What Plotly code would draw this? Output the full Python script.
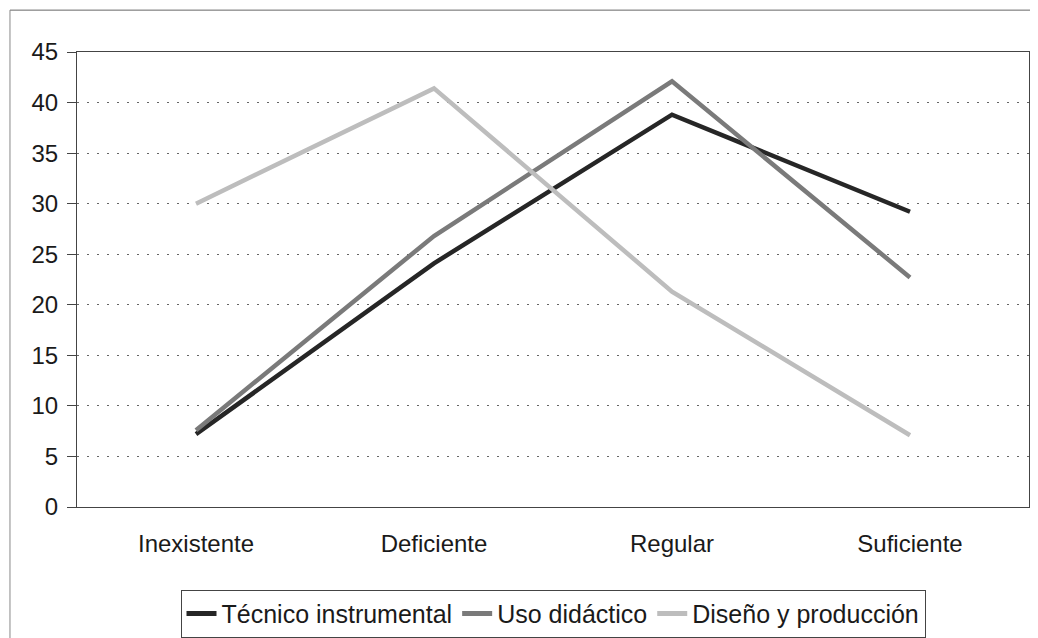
import plotly.graph_objects as go

categories = ["Inexistente", "Deficiente", "Regular", "Suficiente"]
tecnico = [7.2, 24.1, 38.8, 29.2]
uso = [7.6, 26.8, 42.1, 22.7]
diseno = [30.0, 41.4, 21.3, 7.1]

series = [
    ("Técnico instrumental", tecnico, "#262626"),
    ("Uso didáctico", uso, "#7a7a7a"),
    ("Diseño y producción", diseno, "#bdbdbd"),
]

fig = go.Figure()
for name, vals, col in series:
    fig.add_trace(go.Scatter(x=categories, y=vals, mode="lines", name=name,
                             line=dict(color=col, width=4.5)))

font = dict(family="Liberation Sans, Arial, sans-serif", size=24, color="#1a1a1a")
lfont = dict(family="Liberation Sans, Arial, sans-serif", size=25, color="#1a1a1a")
fig.update_layout(
    width=1038, height=638,
    margin=dict(l=69, r=17, t=44, b=139, autoexpand=False),
    paper_bgcolor="white", plot_bgcolor="white",
    font=font,
    showlegend=True,
    legend=dict(orientation="h", x=0.5, xanchor="center", y=-0.182, yanchor="top",
                bordercolor="#444", borderwidth=1, font=lfont,
                tracegroupgap=0, itemsizing="constant"),
    xaxis=dict(type="category", range=[-0.5, 3.5], showgrid=False, showline=True,
               linecolor="#444", linewidth=1, mirror=True, ticks="", tickfont=font,
               ticklabelstandoff=15, automargin=False),
    yaxis=dict(range=[0, 45], dtick=5, showgrid=True, gridcolor="#666",
               griddash="2px,8px", gridwidth=1, showline=True, linecolor="#444",
               linewidth=1, mirror=True, ticks="outside", ticklen=9,
               tickcolor="#444", tickfont=font, ticklabelstandoff=4,
               zeroline=False, automargin=False),
)
# outer frame (top and left edges of the chart box)
fig.add_shape(type="line", xref="paper", yref="paper", x0=-0.0704, x1=1.02, y0=1.092, y1=1.092,
              line=dict(color="#666", width=1))
fig.add_shape(type="line", xref="paper", yref="paper", x0=-0.0704, x1=-0.0704, y0=1.092, y1=-0.3,
              line=dict(color="#888", width=1))

fig.write_html("out.html")
